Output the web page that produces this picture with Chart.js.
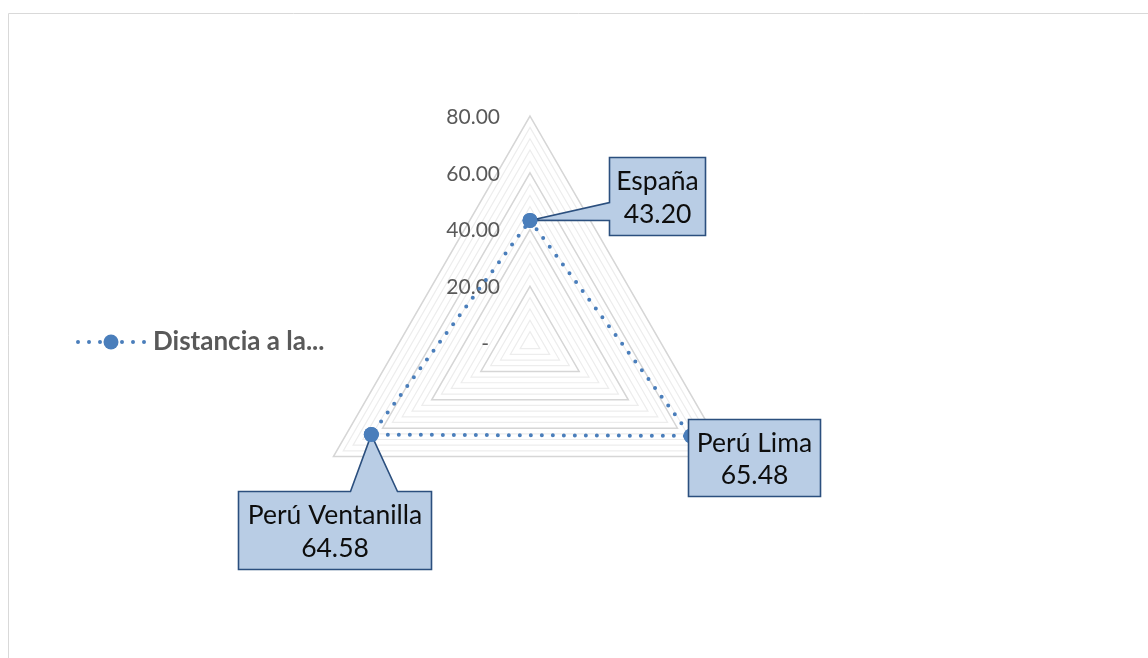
<!DOCTYPE html>
<html>
<head>
<meta charset="utf-8">
<script src="https://cdn.jsdelivr.net/npm/chart.js@4/dist/chart.umd.min.js"></script>
<style>
html, body { margin: 0; padding: 0; background: #ffffff; }
#wrap { position: relative; width: 1148px; height: 658px; }
</style>
</head>
<body>
<div id="wrap"><canvas id="chart" width="1148" height="658"></canvas></div>
<script>
// data
const categories = ['España', 'Perú Lima', 'Perú Ventanilla'];
const distanceValues = [43.20, 65.48, 64.58];
const seriesName = 'Distancia a la...';
const majorTicks = [0, 20, 40, 60, 80];
const majorTickLabels = ['-', '20.00', '40.00', '60.00', '80.00'];

const FONT = 'Lato, "Open Sans", sans-serif';
const SERIES_COLOR = '#4a7ebb';

// callout placement relative to each point (px)
const calloutBoxes = [
    { dx: 79, dy: -63, w: 96, h: 78, tail: { side: 'left', from: 45, to: 63 } },
    { dx: -3, dy: -17, w: 132, h: 77, tail: null },
    { dx: -133, dy: 56, w: 193, h: 78, tail: { side: 'top', from: 112, to: 159 } }
];

function isMajor(value) {
    return majorTicks.indexOf(value) !== -1;
}

// chart frame (only top and left edge are visible in the crop)
const framePlugin = {
    id: 'frame',
    beforeDraw(chart) {
        const ctx = chart.ctx;
        ctx.save();
        ctx.strokeStyle = '#d9d9d9';
        ctx.lineWidth = 1;
        ctx.beginPath();
        ctx.moveTo(8.5, 658);
        ctx.lineTo(8.5, 13.5);
        ctx.lineTo(1148, 13.5);
        ctx.stroke();
        ctx.restore();
    }
};

// value axis labels, left of the vertical axis like Excel does
const tickLabelPlugin = {
    id: 'tickLabels',
    beforeDatasetsDraw(chart) {
        const scale = chart.scales.r;
        const ctx = chart.ctx;
        ctx.save();
        ctx.font = '21px ' + FONT;
        ctx.fillStyle = '#595959';
        ctx.textAlign = 'right';
        ctx.textBaseline = 'middle';
        majorTicks.forEach((value, i) => {
            const y = scale.yCenter - scale.getDistanceFromCenterForValue(value) + 1;
            const x = value === 0 ? scale.xCenter - 41 : scale.xCenter - 30;
            ctx.fillText(majorTickLabels[i], x, y);
        });
        ctx.restore();
    }
};

function calloutPath(ctx, x, y, w, h, tail, tipX, tipY) {
    ctx.beginPath();
    ctx.moveTo(x, y);
    if (tail && tail.side === 'top') {
        ctx.lineTo(x + tail.from, y);
        ctx.lineTo(tipX, tipY);
        ctx.lineTo(x + tail.to, y);
    }
    ctx.lineTo(x + w, y);
    ctx.lineTo(x + w, y + h);
    ctx.lineTo(x, y + h);
    if (tail && tail.side === 'left') {
        ctx.lineTo(x, y + tail.to);
        ctx.lineTo(tipX, tipY);
        ctx.lineTo(x, y + tail.from);
    }
    ctx.closePath();
}

// data labels drawn as callouts
const calloutPlugin = {
    id: 'callouts',
    afterDatasetsDraw(chart) {
        const ctx = chart.ctx;
        const meta = chart.getDatasetMeta(0);
        const values = chart.data.datasets[0].data;
        ctx.save();
        meta.data.forEach((pt, i) => {
            const box = calloutBoxes[i];
            const x = Math.round(pt.x + box.dx) + 0.5;
            const y = Math.round(pt.y + box.dy) + 0.5;
            calloutPath(ctx, x, y, box.w, box.h, box.tail, pt.x, pt.y);
            ctx.fillStyle = '#b9cde5';
            ctx.fill();
            ctx.strokeStyle = '#2b4f7e';
            ctx.lineWidth = 1.6;
            ctx.lineJoin = 'miter';
            ctx.stroke();

            ctx.fillStyle = '#0d0d0d';
            ctx.font = '26.5px ' + FONT;
            ctx.textAlign = 'center';
            ctx.textBaseline = 'middle';
            ctx.fillText(chart.data.labels[i], x + box.w / 2, y + box.h * 0.31);
            ctx.fillText(values[i].toFixed(2), x + box.w / 2, y + box.h * 0.73);
        });
        ctx.restore();
        // markers sit above the callout tails
        meta.data.forEach((pt, i) => {
            if (calloutBoxes[i].tail) pt.draw(ctx, chart.chartArea);
        });
    }
};

// legend: dotted line with marker, left of the plot
const legendPlugin = {
    id: 'sideLegend',
    afterDraw(chart) {
        const ctx = chart.ctx;
        const y = chart.scales.r.yCenter - 1;
        ctx.save();
        ctx.strokeStyle = SERIES_COLOR;
        ctx.lineWidth = 4;
        ctx.lineCap = 'round';
        ctx.setLineDash([0, 11]);
        ctx.beginPath();
        ctx.moveTo(78, y);
        ctx.lineTo(148, y);
        ctx.stroke();
        ctx.setLineDash([]);
        ctx.fillStyle = SERIES_COLOR;
        ctx.beginPath();
        ctx.arc(111, y, 7.5, 0, Math.PI * 2);
        ctx.fill();

        ctx.font = 'bold 26px ' + FONT;
        ctx.fillStyle = '#595959';
        ctx.textAlign = 'left';
        ctx.textBaseline = 'middle';
        ctx.fillText(chart.data.datasets[0].label, 153, y);
        ctx.restore();
    }
};

new Chart(document.getElementById('chart'), {
    type: 'radar',
    data: {
        labels: categories,
        datasets: [{
            label: seriesName,
            data: distanceValues,
            borderColor: SERIES_COLOR,
            backgroundColor: SERIES_COLOR,
            borderWidth: 4,
            borderDash: [0, 11],
            borderCapStyle: 'round',
            fill: false,
            tension: 0,
            pointRadius: 7.5,
            pointBorderWidth: 0,
            pointBackgroundColor: SERIES_COLOR
        }]
    },
    options: {
        responsive: false,
        animation: false,
        events: [],
        layout: {
            padding: { left: 203, right: 291, top: 116, bottom: 88 }
        },
        plugins: {
            legend: { display: false },
            tooltip: { enabled: false }
        },
        scales: {
            r: {
                min: 0,
                max: 80,
                angleLines: { display: false },
                pointLabels: { display: false },
                grid: {
                    color: (c) => (c.tick && isMajor(c.tick.value)) ? '#d6d6d6' : '#ededed',
                    lineWidth: (c) => (c.tick && isMajor(c.tick.value)) ? 1.5 : 1.2
                },
                ticks: {
                    display: false,
                    stepSize: 4
                }
            }
        }
    },
    plugins: [framePlugin, tickLabelPlugin, calloutPlugin, legendPlugin]
});
</script>
</body>
</html>
